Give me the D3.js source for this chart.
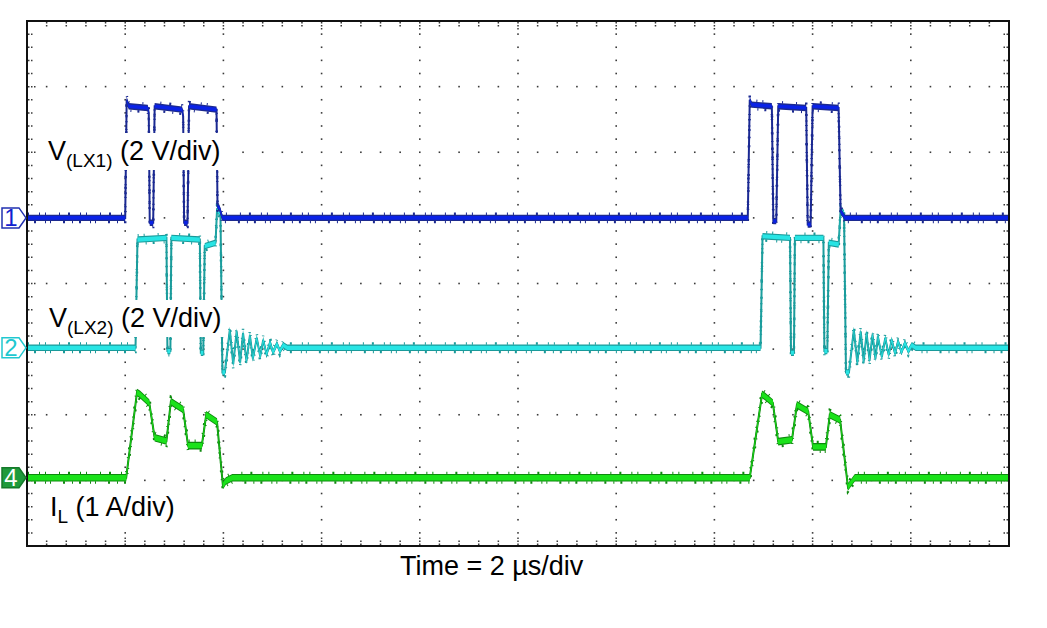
<!DOCTYPE html>
<html>
<head>
<meta charset="utf-8">
<script src="https://cdn.jsdelivr.net/npm/d3@7"></script>
<style>
body { margin: 0; background: #fff; }
text { font-family: "Liberation Sans", Arial, sans-serif; }
</style>
</head>
<body>
<svg id="chart" width="1047" height="628"></svg>
<script>
// channel traces: [time in µs, value in V or A]
var ch1Points = [[0,0],[2.00,0],[2.03,3.6],[2.07,3.4],[2.46,3.35],[2.48,3.2],[2.50,-0.15],[2.57,-0.15],
	[2.60,3.4],[3.16,3.3],[3.18,3.1],[3.20,-0.15],[3.27,-0.15],[3.30,3.4],[3.86,3.3],[3.88,0.35],
	[3.92,0.3],[3.98,0],[14.68,0],[14.72,3.6],[14.76,3.45],[15.17,3.4],[15.20,-0.1],[15.26,-0.1],
	[15.30,3.4],[15.87,3.35],[15.90,-0.2],[15.96,-0.2],[16.00,3.4],[16.53,3.35],[16.57,0.2],
	[16.62,0.1],[16.66,0],[20,0]];

var ch2Points = [[0,0],[2.21,0],[2.25,3.3],[2.84,3.35],[2.86,-0.1],[2.92,-0.1],[2.94,3.35],[3.52,3.3],
	[3.54,-0.15],[3.59,-0.15],[3.62,3.1],[3.84,3.2],[3.87,4.2],[3.94,4.1],[3.98,-0.75],[4.03,-0.75],
	[4.13,0.55],[4.20,-0.5],[4.27,0.5],[4.34,-0.45],[4.40,0.45],[4.47,-0.4],[4.54,0.38],[4.60,-0.33],
	[4.68,0.3],[4.75,-0.27],[4.81,0.24],[4.88,-0.2],[4.95,0.17],[5.01,-0.14],[5.09,0.12],[5.15,-0.1],
	[5.22,0.08],[5.30,0],[14.94,0],[14.98,3.4],[15.54,3.35],[15.56,-0.15],[15.62,-0.15],[15.64,3.35],
	[16.22,3.35],[16.24,-0.1],[16.30,-0.1],[16.33,3.2],[16.53,3.15],[16.57,4.2],[16.64,4.1],
	[16.68,-0.75],[16.74,-0.75],[16.84,0.55],[16.91,-0.45],[16.98,0.5],[17.04,-0.42],[17.10,0.45],
	[17.16,-0.38],[17.22,0.4],[17.28,-0.33],[17.33,0.35],[17.41,-0.28],[17.48,0.3],[17.55,-0.22],
	[17.61,0.25],[17.68,-0.18],[17.74,0.2],[17.81,-0.13],[17.88,0.15],[17.95,-0.1],[18.02,0.08],
	[18.10,0],[20,0]];

var ch4Points = [[0,0],[2.02,0],[2.24,1.30],[2.30,1.27],[2.49,1.14],[2.60,0.61],[2.84,0.56],[2.93,1.16],
	[3.18,1.04],[3.28,0.49],[3.56,0.49],[3.65,0.96],[3.87,0.85],[3.99,-0.12],[4.05,-0.05],[4.18,0],
	[14.72,0],[14.97,1.27],[15.03,1.24],[15.19,1.14],[15.30,0.55],[15.58,0.58],[15.68,1.11],
	[15.91,1.01],[16.01,0.47],[16.27,0.47],[16.35,0.96],[16.56,0.88],[16.72,-0.14],[16.86,0],[20,0]];

var channelNames = ['1', '2', '4'];
var channelOffsets = [5.0, 3.02, 1.04];   // divisions from bottom
var channelScales = [2, 2, 1];            // V/div, V/div, A/div
var timeSpan = [0, 20];                   // 2 µs/div, 10 div

(function() {
var svg = d3.select('#chart');
var pLeft = 27, pRight = 1009, pTop = 21, pBottom = 546;

var x = d3.scaleLinear().domain(timeSpan).range([pLeft, pRight]);
var xDiv = d3.scaleLinear().domain([0, 10]).range([pLeft, pRight]);
var yDiv = d3.scaleLinear().domain([0, 8]).range([pBottom, pTop]);

// dotted graticule
var grid = svg.append('g').attr('fill', '#3a3a3a');
d3.range(1, 10).forEach(function(i) {
	d3.range(1, 40).forEach(function(k) {
		grid.append('rect').attr('x', xDiv(i) - 0.8).attr('y', yDiv(k / 5) - 0.8)
			.attr('width', 1.6).attr('height', 1.6);
	});
});
d3.range(1, 8).forEach(function(j) {
	d3.range(1, 50).forEach(function(k) {
		if (k % 5 == 0) return;
		grid.append('rect').attr('x', xDiv(k / 5) - 0.8).attr('y', yDiv(j) - 0.8)
			.attr('width', 1.6).attr('height', 1.6);
	});
});

// border ticks
var ticks = svg.append('g').attr('stroke', '#3a3a3a').attr('stroke-width', 1.5)
	.attr('stroke-dasharray', '1.5,1.5');
d3.range(1, 40).forEach(function(k) {
	var len = k % 5 == 0 ? 8 : 4.5;
	var yy = yDiv(k / 5);
	ticks.append('line').attr('x1', pLeft + 1).attr('x2', pLeft + 1 + len).attr('y1', yy).attr('y2', yy);
	ticks.append('line').attr('x1', pRight - 1).attr('x2', pRight - 1 - len).attr('y1', yy).attr('y2', yy);
});
d3.range(1, 50).forEach(function(k) {
	var len = k % 5 == 0 ? 8 : 4.5;
	var xx = xDiv(k / 5);
	ticks.append('line').attr('y1', pTop + 1).attr('y2', pTop + 1 + len).attr('x1', xx).attr('x2', xx);
	ticks.append('line').attr('y1', pBottom - 1).attr('y2', pBottom - 1 - len).attr('x1', xx).attr('x2', xx);
});

// traces: noisy band drawn as an area around the trace, thin edges
var traces = [
	{pts: ch1Points, dark: '#1c2a90', bright: '#0a22e6', half: 3.2, rim: 1.4},
	{pts: ch2Points, dark: '#1a9a9a', bright: '#28e4e4', half: 3.2, rim: 1.1},
	{pts: ch4Points, dark: '#0e8a0e', bright: '#1ae21a', half: 3.8, rim: 1.1}
];
[2, 1, 0].forEach(function(ch) {
	var tr = traces[ch];
	var yv = function(d) { return yDiv(channelOffsets[ch] + d[1] / channelScales[ch]); };
	var band = function(h) {
		return d3.area().x(function(d) { return x(d[0]); })
			.y0(function(d) { return yv(d) + h; })
			.y1(function(d) { return yv(d) - h; });
	};
	var shifted = function(dy) {
		return d3.line().x(function(d) { return x(d[0]); })
			.y(function(d) { return yv(d) + dy; });
	};
	var g = svg.append('g');
	g.append('path').attr('d', shifted(tr.half + 1)(tr.pts)).attr('fill', 'none')
		.attr('stroke', tr.dark).attr('stroke-width', 2.5)
		.attr('stroke-dasharray', '1,6,2,9,1,4,1,12,2,7');
	g.append('path').attr('d', shifted(-tr.half - 1)(tr.pts)).attr('fill', 'none')
		.attr('stroke', tr.dark).attr('stroke-width', 2.5)
		.attr('stroke-dasharray', '2,10,1,5,1,13,1,8');
	g.append('path').attr('d', band(tr.half)(tr.pts)).attr('fill', tr.dark);
	g.append('path').attr('d', shifted(0)(tr.pts)).attr('fill', 'none')
		.attr('stroke', tr.dark).attr('stroke-width', 2);
	g.append('path').attr('d', band(tr.half - tr.rim)(tr.pts)).attr('fill', tr.bright);
});

// frame
svg.append('rect').attr('x', pLeft).attr('y', pTop).attr('width', pRight - pLeft).attr('height', pBottom - pTop)
	.attr('fill', 'none').attr('stroke', '#111').attr('stroke-width', 2);

// channel markers
var markerStyle = [
	{fill: '#fff', stroke: '#2030b0', text: '#1020d0'},
	{fill: '#fff', stroke: '#20c8d0', text: '#20c8d0'},
	{fill: '#1f9a3c', stroke: '#157a2a', text: '#fff'}
];
channelNames.forEach(function(name, ch) {
	var y0 = yDiv(channelOffsets[ch]);
	var m = svg.append('g');
	m.append('path')
		.attr('d', 'M2,' + (y0 - 10) + 'L19,' + (y0 - 10) + 'L26,' + y0 + 'L19,' + (y0 + 10) + 'L2,' + (y0 + 10) + 'Z')
		.attr('fill', markerStyle[ch].fill).attr('stroke', markerStyle[ch].stroke).attr('stroke-width', 1.5);
	m.append('text').attr('x', 11).attr('y', y0 + 8.5).attr('text-anchor', 'middle')
		.attr('font-size', 24).attr('fill', markerStyle[ch].text).text(name);
});

// labels on white boxes
function label(xp, yp, main, sub, rest) {
	svg.append('rect').attr('x', xp - 3).attr('y', yp - 27).attr('width', 180).attr('height', 37)
		.attr('fill', '#fff');
	var t = svg.append('text').attr('x', xp).attr('y', yp).attr('font-size', 27).attr('fill', '#000');
	t.append('tspan').text(main);
	t.append('tspan').attr('font-size', 19).attr('dy', 7).text(sub);
	t.append('tspan').attr('dy', -7).text(' ' + rest);
}
label(48, 160, 'V', '(LX1)', '(2 V/div)');
label(49, 327, 'V', '(LX2)', '(2 V/div)');
label(50, 516, 'I', 'L', '(1 A/div)');

svg.append('text').attr('x', 400).attr('y', 575).attr('font-size', 27).attr('fill', '#000')
	.text('Time = 2 µs/div');
})();
</script>
</body>
</html>
